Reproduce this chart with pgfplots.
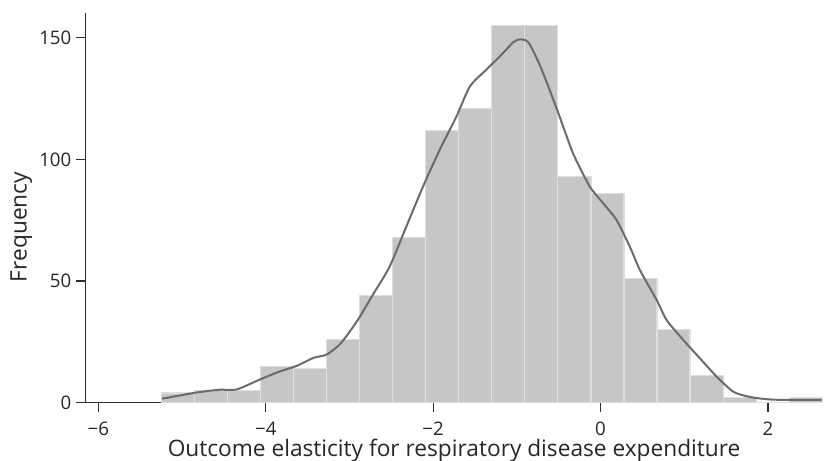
\documentclass[border=0pt]{standalone}
\usepackage{fontspec}
\setmainfont{Open Sans}
\usepackage{pgfplots}
\pgfplotsset{compat=1.18}
\definecolor{barfill}{HTML}{C5C6C8}
\definecolor{baredge}{HTML}{DDDEDF}
\definecolor{kline}{HTML}{6B6B6B}
\definecolor{axcol}{HTML}{2E2E2E}
\begin{document}
\begin{tikzpicture}
\begin{axis}[name=ax, scale only axis, width=552pt, height=291.75pt,
  xmin=-6.15, xmax=2.65, ymin=0, ymax=160,
  axis x line*=bottom, axis y line*=left,
  xtick={-6,-4,-2,0,2}, xticklabels={−6,−4,−2,0,2},
  ytick={0,50,100,150},
  /pgf/number format/assume math mode=true,
  tick align=outside, major tick length=7.3pt,
  tick style={axcol, line width=0.9pt},
  axis line style={axcol, line width=0.9pt},
  ticklabel style={font=\fontsize{14}{16}\selectfont, text=black!85},
  xticklabel style={inner sep=0pt, yshift=-7pt},
  xlabel={Outcome elasticity for respiratory disease expenditure},
  ylabel={Frequency},
  every axis x label/.style={at={(axis description cs:0.5,0)}, anchor=base, inner sep=0pt, yshift=-40.7pt, font=\fontsize{17}{20}\selectfont, text=black!85},
  every axis y label/.style={at={(axis description cs:0,0.451)}, xshift=-48.4pt, rotate=90, anchor=center, font=\fontsize{17}{20}\selectfont, text=black!85},
]
\addplot[ybar interval, fill=barfill, draw=baredge, line width=0.9pt] coordinates {
(-5.25,4) (-4.855,5) (-4.46,5) (-4.065,15) (-3.67,14) (-3.275,26) (-2.88,44)
(-2.485,68) (-2.09,112) (-1.695,121) (-1.30,155) (-0.905,155) (-0.51,93)
(-0.115,86) (0.28,51) (0.675,30) (1.07,11) (1.465,2) (1.86,0) (2.255,2) (2.65,2)};
\addplot[kline, line width=1.5pt, smooth, tension=0.4] coordinates {
(-5.24,1.6) (-4.82,4.2) (-4.55,5.3) (-4.35,5.4) (-4.07,9.5) (-3.85,12.6) (-3.63,15.1)
(-3.43,18.4) (-3.27,19.8) (-3.1,24.5) (-2.9,34) (-2.71,44.9) (-2.52,55.9)
(-2.32,72.4) (-2.12,88.9) (-1.92,104) (-1.72,117.7) (-1.56,130) (-1.36,137)
(-1.2,142.4) (-1.04,148.2) (-0.96,149.3) (-0.86,148) (-0.72,138.3) (-0.52,120.5)
(-0.33,102.6) (-0.13,88.9) (0.03,82) (0.19,75.1) (0.35,64.1) (0.47,54.5)
(0.67,42.2) (0.79,33.9) (0.99,25.7) (1.19,18.1) (1.39,10.6) (1.59,4.4)
(1.79,2.3) (1.99,1.4) (2.19,1.1) (2.64,1.1)};
\end{axis}
\pgfresetboundingbox
\path[use as bounding box] ([xshift=-64.3pt,yshift=-43.3pt]ax.south west) rectangle ([xshift=3.5pt,yshift=10pt]ax.north east);
\end{tikzpicture}
\end{document}
